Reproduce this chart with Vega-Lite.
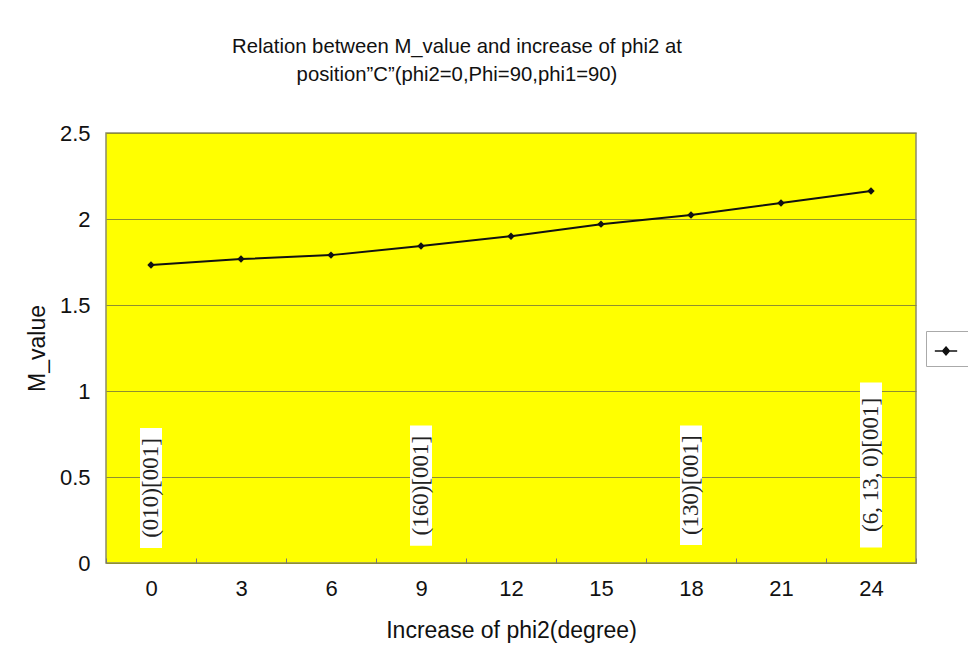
{
  "$schema": "https://vega.github.io/schema/vega-lite/v6.json",
  "autosize": "none",
  "width": 810,
  "height": 430,
  "padding": {"left": 106, "top": 133, "right": 52, "bottom": 96},
  "background": "white",
  "title": {
    "text": ["Relation between M_value and increase of phi2 at", "position\u201dC\u201d(phi2=0,Phi=90,phi1=90)"],
    "font": "Liberation Sans",
    "fontSize": 20.3,
    "fontWeight": "normal",
    "color": "#111",
    "lineHeight": 28,
    "anchor": "middle",
    "dx": -54,
    "offset": 37
  },
  "config": {
    "view": {"fill": "#FFFF00", "stroke": "#8c8c6a", "strokeWidth": 1.5},
    "axis": {
      "labelFont": "Liberation Sans",
      "titleFont": "Liberation Sans",
      "labelColor": "#111",
      "titleColor": "#111",
      "titleFontWeight": "normal"
    }
  },
  "datasets": {
    "series": [
      {"phi2": 0, "M_value": 1.733, "s": " "},
      {"phi2": 3, "M_value": 1.767, "s": " "},
      {"phi2": 6, "M_value": 1.79, "s": " "},
      {"phi2": 9, "M_value": 1.843, "s": " "},
      {"phi2": 12, "M_value": 1.9, "s": " "},
      {"phi2": 15, "M_value": 1.97, "s": " "},
      {"phi2": 18, "M_value": 2.023, "s": " "},
      {"phi2": 21, "M_value": 2.093, "s": " "},
      {"phi2": 24, "M_value": 2.163, "s": " "}
    ],
    "notes": [
      {"phi2": 0, "label": "(010)[001]", "y0": 0.087, "y1": 0.785, "ym": 0.436},
      {"phi2": 9, "label": "(160)[001]", "y0": 0.1, "y1": 0.8, "ym": 0.45},
      {"phi2": 18, "label": "(130)[001]", "y0": 0.105, "y1": 0.8, "ym": 0.452},
      {"phi2": 24, "label": "(6, 13, 0)[001]", "y0": 0.09, "y1": 1.05, "ym": 0.57}
    ]
  },
  "encoding": {
    "x": {
      "field": "phi2",
      "type": "ordinal",
      "sort": [0, 3, 6, 9, 12, 15, 18, 21, 24],
      "scale": {"domain": [0, 3, 6, 9, 12, 15, 18, 21, 24], "paddingInner": 0, "paddingOuter": 0},
      "axis": {
        "title": "Increase of phi2(degree)",
        "titleFontSize": 23,
        "titlePadding": 20,
        "labelFontSize": 22,
        "labelAngle": 0,
        "labelPadding": 20,
        "domain": false,
        "ticks": true,
        "tickBand": "extent",
        "tickSize": -5,
        "tickColor": "#777",
        "grid": false
      }
    }
  },
  "layer": [
    {
      "data": {"name": "notes"},
      "mark": {"type": "bar", "color": "white", "size": 22},
      "encoding": {
        "y": {"field": "y0", "type": "quantitative"},
        "y2": {"field": "y1"}
      }
    },
    {
      "data": {"name": "notes"},
      "mark": {"type": "text", "angle": 270, "font": "Liberation Serif", "fontSize": 23, "color": "#222", "align": "center", "baseline": "middle"},
      "encoding": {
        "y": {"field": "ym", "type": "quantitative"},
        "text": {"field": "label"}
      }
    },
    {
      "data": {"name": "series"},
      "mark": {"type": "line", "strokeWidth": 2, "point": {"shape": "diamond", "filled": true, "size": 55, "color": "#111"}},
      "encoding": {
        "y": {
          "field": "M_value",
          "type": "quantitative",
          "scale": {"domain": [0, 2.5], "nice": false},
          "axis": {
            "title": "M_value",
            "titleFontSize": 23,
            "titlePadding": 10,
            "labelFontSize": 22,
            "labelPadding": 16,
            "values": [0, 0.5, 1, 1.5, 2, 2.5],
            "labelExpr": "datum.value",
            "domain": false,
            "ticks": false,
            "grid": true,
            "gridColor": "#8f8f30",
            "gridWidth": 1.2
          }
        },
        "color": {
          "field": "s",
          "type": "nominal",
          "scale": {"range": ["#111"]},
          "legend": {
            "title": null,
            "orient": "none",
            "legendX": 820,
            "legendY": 198,
            "padding": 8,
            "strokeColor": "#aaa",
            "fillColor": "white",
            "symbolType": "M-1,0H1M0,-0.35L0.3,0L0,0.35L-0.3,0Z",
            "symbolSize": 500,
            "symbolStrokeWidth": 1.5,
            "symbolFillColor": "#111",
            "labelFontSize": 1,
            "labelLimit": 1
          }
        }
      }
    }
  ]
}
